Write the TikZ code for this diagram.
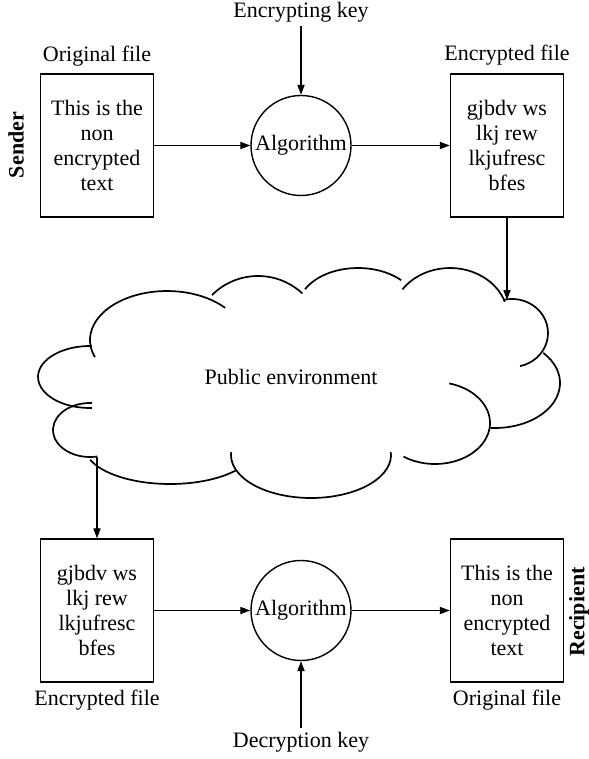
\documentclass[tikz,border=0pt]{standalone}
\usepackage{fontspec}
\setmainfont{Liberation Serif}
\usetikzlibrary{arrows.meta}

\tikzset{
  flow/.style={draw, line width=0.6pt, -{Triangle[length=5pt,width=3.6pt]}},
  net/.style={line width=0.85pt},
}
% one puff of the cloud: centre x, centre y, x radius, y radius, from, to
\newcommand{\cloudarc}[6]{
    \draw[net] (#1,#2) ++(#5:#3 and #4) arc[start angle=#5, end angle=#6, x radius=#3, y radius=#4];
}

\begin{document}
\begin{tikzpicture}[x=0.5pt, y=-0.5pt, font=\fontsize{11}{12.5}\selectfont]
        \tikzstyle{filebox}=[draw,line width=0.7pt,minimum width=56.5pt,minimum height=71.5pt,align=center,inner sep=0pt]
        \tikzstyle{algo}=[draw,circle,line width=0.7pt,minimum size=50pt,inner sep=0pt]
        \tikzstyle{filename}=[inner sep=2pt]
        \tikzstyle{side}=[rotate=90,font=\fontsize{11}{12.5}\selectfont\bfseries]

        \useasboundingbox (0,0) rectangle (588,759);

        % sender side
        \node[side] (S) at (16,145) {Sender};
        \node[filename] (L_1) at (97,56) {Original file};
        \node[filebox] (F_1) at (97,145.5) {This is the\\non\\encrypted\\text};
        \node[filename] (K_1) at (301,12) {Encrypting key};
        \node[algo] (A_1) at (301,145.5) {\makebox[0pt]{Algorithm}};
        \node[filename] (L_2) at (507,55) {Encrypted file};
        \node[filebox] (F_2) at (507,145.5) {gjbdv ws\\lkj rew\\lkjufresc\\bfes};

        % public part
        \cloudarc{167}{340}{77}{49}{159.5}{319}
        \cloudarc{258}{341}{65}{65}{225}{313}
        \cloudarc{358}{308}{60}{40}{208}{316}
        \cloudarc{450}{318}{58}{50}{215}{341}
        \cloudarc{512}{333}{36}{34}{256}{437}
        \cloudarc{495}{383}{65}{45}{318}{454}
        \cloudarc{435}{423}{55}{41}{285}{485}
        \cloudarc{311}{455}{80}{43}{-4}{184}
        \cloudarc{170}{447}{85}{37}{38}{160}
        \cloudarc{90}{430}{37}{27}{273}{79}
        \cloudarc{90}{377}{52}{31}{272}{88}
        \node (P) at (291,377) {Public environment};
        \coordinate (P_in) at (507,300);
        \coordinate (P_out) at (97,456.5);

        % recipient side
        \node[filebox] (F_3) at (97,610.5) {gjbdv ws\\lkj rew\\lkjufresc\\bfes};
        \node[filename] (L_3) at (97,700) {Encrypted file};
        \node[algo] (A_2) at (301,610.5) {\makebox[0pt]{Algorithm}};
        \node[filename] (K_2) at (301,742) {Decryption key};
        \node[filebox] (F_4) at (507,610.5) {This is the\\non\\encrypted\\text};
        \node[filename] (L_4) at (507,700) {Original file};
        \node[side] (R) at (579,612) {Recipient};

        \draw[flow] (K_1) -- (A_1);
        \draw[flow] (F_1) -- (A_1);
        \draw[flow] (A_1) -- (F_2);
        \draw[flow] (F_2) -- (P_in);
        \draw[flow] (P_out) -- (F_3);
        \draw[flow] (F_3) -- (A_2);
        \draw[flow] (A_2) -- (F_4);
        \draw[flow] (K_2) -- (A_2);
\end{tikzpicture}
\end{document}
